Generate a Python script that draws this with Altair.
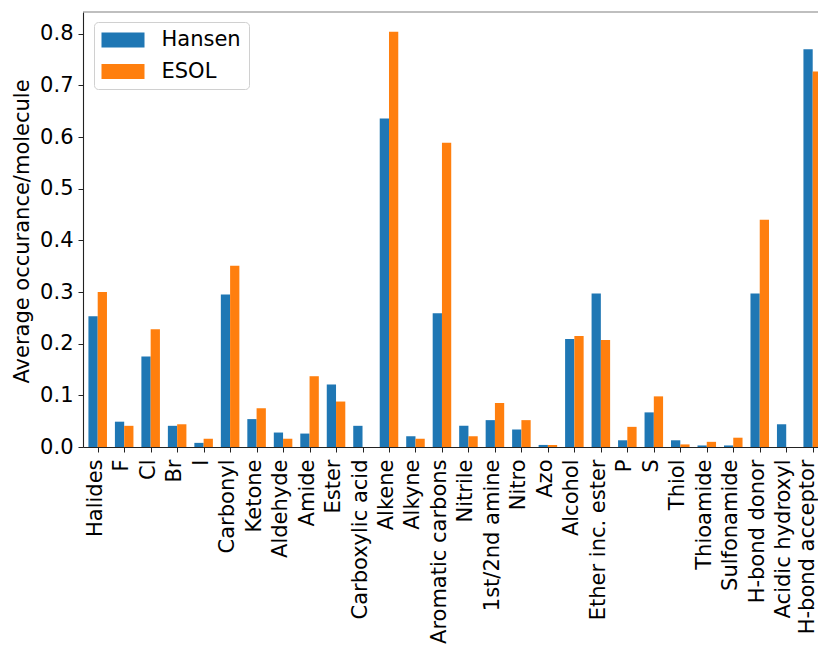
import json

import altair as alt
import pandas as pd

# Functional-group counts per molecule for the two datasets
categories = [
    "Halides", "F", "Cl", "Br", "I", "Carbonyl", "Ketone", "Aldehyde", "Amide",
    "Ester", "Carboxylic acid", "Alkene", "Alkyne", "Aromatic carbons", "Nitrile",
    "1st/2nd amine", "Nitro", "Azo", "Alcohol", "Ether inc. ester", "P", "S",
    "Thiol", "Thioamide", "Sulfonamide", "H-bond donor", "Acidic hydroxyl",
    "H-bond acceptor",
]
hansen = [
    0.253, 0.049, 0.175, 0.041, 0.008, 0.295, 0.054, 0.028, 0.026,
    0.121, 0.041, 0.636, 0.021, 0.259, 0.041,
    0.052, 0.034, 0.004, 0.209, 0.297, 0.013, 0.067,
    0.013, 0.003, 0.003, 0.297, 0.044,
    0.770,
]
esol = [
    0.300, 0.041, 0.228, 0.044, 0.016, 0.351, 0.075, 0.016, 0.137,
    0.088, 0.000, 0.804, 0.016, 0.589, 0.021,
    0.085, 0.052, 0.004, 0.215, 0.207, 0.039, 0.098,
    0.005, 0.010, 0.018, 0.440, 0.000,
    0.727,
]
series_names = ["Hansen", "ESOL"]
series_colors = ["#1f77b4", "#ff7f0e"]
y_ticks = [0.0, 0.1, 0.2, 0.3, 0.4, 0.5, 0.6, 0.7, 0.8]

BAR_W = 0.35
FONT = "DejaVu Sans"

rows = []
for i, name in enumerate(categories):
    rows.append({"idx": i, "group": name, "series": "Hansen", "value": hansen[i]})
    rows.append({"idx": i, "group": name, "series": "ESOL", "value": esol[i]})
df = pd.DataFrame(rows)

label_expr = json.dumps(categories) + "[datum.value]"
last_idx = len(categories) - 1

x_scale = alt.Scale(domain=[-0.555, 27.2], nice=False, zero=False)
y_scale = alt.Scale(domain=[0, 0.842], nice=False)

# Wide rectangular legend swatch (path units are scaled by sqrt(size)/2)
swatch = "M-2.048,-0.714L2.048,-0.714L2.048,0.714L-2.048,0.714Z"

bars = (
    alt.Chart(df)
    .transform_calculate(
        x0=f"datum.idx + (datum.series === 'Hansen' ? -{BAR_W} : 0)",
    )
    .transform_calculate(x1=f"datum.x0 + {BAR_W}")
    .mark_bar(clip=True, stroke=None)
    .encode(
        x=alt.X(
            "x0:Q",
            scale=x_scale,
            axis=alt.Axis(
                values=list(range(len(categories))),
                labelExpr=label_expr,
                title=None,
                grid=False,
                labelAngle=270,
                labelAlign="right",
                labelBaseline="middle",
                labelFont=FONT,
                labelFontSize=21,
                labelColor="#000",
                labelPadding=7,
                # keep the right-most label inside the canvas edge
                labelOffset=alt.condition(
                    f"datum.value == {last_idx}", alt.value(-5.5), alt.value(-2.5)
                ),
                labelLimit=0,
                labelFlush=False,
                labelOverlap=False,
                labelBound=False,
                tickSize=5,
                tickColor="#222",
                domainColor="#222",
                domainWidth=1.1,
            ),
        ),
        x2="x1:Q",
        y=alt.Y(
            "value:Q",
            scale=y_scale,
            axis=alt.Axis(
                values=y_ticks,
                format=".1f",
                title="Average occurance/molecule",
                titleFont=FONT,
                titleFontSize=21,
                titleFontWeight="normal",
                titleColor="#000",
                titleAngle=270,
                titleAlign="center",
                titleBaseline="alphabetic",
                titleX=-55,
                titleY=219,
                grid=False,
                labelFont=FONT,
                labelFontSize=21,
                labelColor="#000",
                labelPadding=5,
                tickSize=5,
                tickColor="#222",
                domainColor="#222",
                domainWidth=1.1,
            ),
        ),
        y2=alt.datum(0),
        color=alt.Color(
            "series:N",
            scale=alt.Scale(domain=series_names, range=series_colors),
            legend=alt.Legend(
                title=None,
                orient="none",
                legendX=11,
                legendY=10,
                symbolType=swatch,
                symbolSize=441,
                symbolOffset=11,
                symbolStrokeWidth=0,
                symbolOpacity=1,
                labelFont=FONT,
                labelFontSize=21,
                labelColor="#000",
                labelOffset=28,
                rowPadding=9.5,
                padding=7.5,
                strokeColor="#d0d0d0",
                cornerRadius=4,
                fillColor="white",
            ),
        ),
    )
)

# Top frame line across the plot area
top_line = (
    alt.Chart(pd.DataFrame({"top": [0.842]}))
    .mark_rule(color="#808080", strokeWidth=1.1)
    .encode(y=alt.Y("top:Q", scale=y_scale))
)

chart = (
    alt.layer(bars, top_line)
    .properties(
        width=735,
        height=435,
        padding={"left": 83, "top": 12, "right": 0, "bottom": 199},
        autosize=alt.AutoSizeParams(type="none"),
        background="white",
    )
    .configure_view(stroke=None)
)

chart.save("out.html", embed_options={"renderer": "svg", "actions": False})
